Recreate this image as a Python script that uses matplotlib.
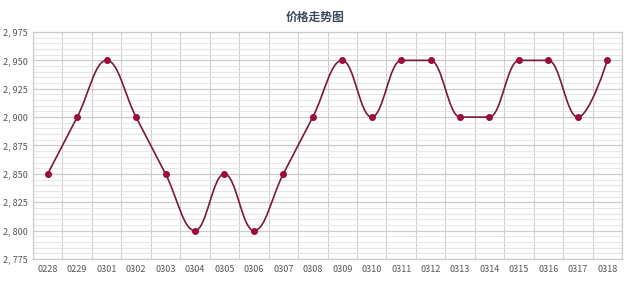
import matplotlib
matplotlib.use("Agg")
import matplotlib.pyplot as plt
from matplotlib.path import Path
from matplotlib.patches import PathPatch
from matplotlib.ticker import MultipleLocator, FuncFormatter

plt.rcParams['font.family'] = ['Noto Sans CJK SC', 'DejaVu Sans']

dates = ["0228", "0229", "0301", "0302", "0303", "0304", "0305", "0306", "0307", "0308",
         "0309", "0310", "0311", "0312", "0313", "0314", "0315", "0316", "0317", "0318"]
prices = [2.850, 2.900, 2.950, 2.900, 2.850, 2.800, 2.850, 2.800, 2.850, 2.900,
          2.950, 2.900, 2.950, 2.950, 2.900, 2.900, 2.950, 2.950, 2.900, 2.950]

LINE = "#7a1a3a"
MARK = "#9a0c3a"


def spline_path(xs, ys, smoothing=1.5):
    # highcharts style spline control points
    n = len(xs)
    lc = [None] * n
    rc = [None] * n
    for i in range(1, n - 1):
        px, py = xs[i], ys[i]
        lx, ly = xs[i - 1], ys[i - 1]
        nx, ny = xs[i + 1], ys[i + 1]
        d = smoothing + 1
        lcx = (smoothing * px + lx) / d
        lcy = (smoothing * py + ly) / d
        rcx = (smoothing * px + nx) / d
        rcy = (smoothing * py + ny) / d
        if rcx != lcx:
            corr = ((rcy - lcy) * (rcx - px)) / (rcx - lcx) + py - rcy
            lcy += corr
            rcy += corr
        if lcy > ly and lcy > py:
            lcy = max(ly, py)
            rcy = 2 * py - lcy
        elif lcy < ly and lcy < py:
            lcy = min(ly, py)
            rcy = 2 * py - lcy
        if rcy > ny and rcy > py:
            rcy = max(ny, py)
            lcy = 2 * py - rcy
        elif rcy < ny and rcy < py:
            rcy = min(ny, py)
            lcy = 2 * py - rcy
        lc[i] = (lcx, lcy)
        rc[i] = (rcx, rcy)
    verts = [(xs[0], ys[0])]
    codes = [Path.MOVETO]
    for i in range(1, n):
        c1 = rc[i - 1] if rc[i - 1] else (xs[i - 1], ys[i - 1])
        c2 = lc[i] if lc[i] else (xs[i], ys[i])
        verts += [c1, c2, (xs[i], ys[i])]
        codes += [Path.CURVE4] * 3
    return Path(verts, codes)


fig = plt.figure(figsize=(6.4, 2.82), dpi=100)
ax = fig.add_axes([33 / 640, 1 - 259 / 282, (622 - 33) / 640, (259 - 32) / 282])

xs = list(range(len(dates)))
ax.add_patch(PathPatch(spline_path(xs, prices), fill=False, edgecolor=LINE, lw=1.2, zorder=3))
ax.plot(xs, prices, 'o', color=MARK, ms=4, zorder=4)

ax.set_xlim(-0.5, len(dates) - 0.5)
ax.set_ylim(2.775, 2.975)
ax.set_xticks(xs)
ax.set_xticklabels(dates)
ax.set_xticks([i - 0.5 for i in range(len(dates) + 1)], minor=True)
ax.yaxis.set_major_locator(MultipleLocator(0.025))
ax.yaxis.set_minor_locator(MultipleLocator(0.005))
ax.yaxis.set_major_formatter(FuncFormatter(lambda v, p: "{:,.3f}".format(v).replace(".", ", ", 1)))

ax.grid(False)
ax.grid(True, which='minor', axis='x', color='#d0d0d0', lw=0.8)
ax.grid(True, which='minor', axis='y', color='#e6e6e6', lw=0.7)
ax.grid(True, which='major', axis='y', color='#cccccc', lw=0.9)
ax.set_axisbelow(True)

for s in ax.spines.values():
    s.set_color('#cccccc')
    s.set_linewidth(0.9)

ax.tick_params(which='both', length=0)
ax.tick_params(axis='x', labelsize=6.5, colors='#555555', pad=4)
ax.tick_params(axis='y', labelsize=6.5, colors='#555555', pad=4)

fig.text(315 / 640, 1 - 17 / 282, "价格走势图", ha='center', va='center',
         fontsize=8.5, fontweight='bold', color='#3d4a5c')

fig.savefig("out.png", dpi=100)
